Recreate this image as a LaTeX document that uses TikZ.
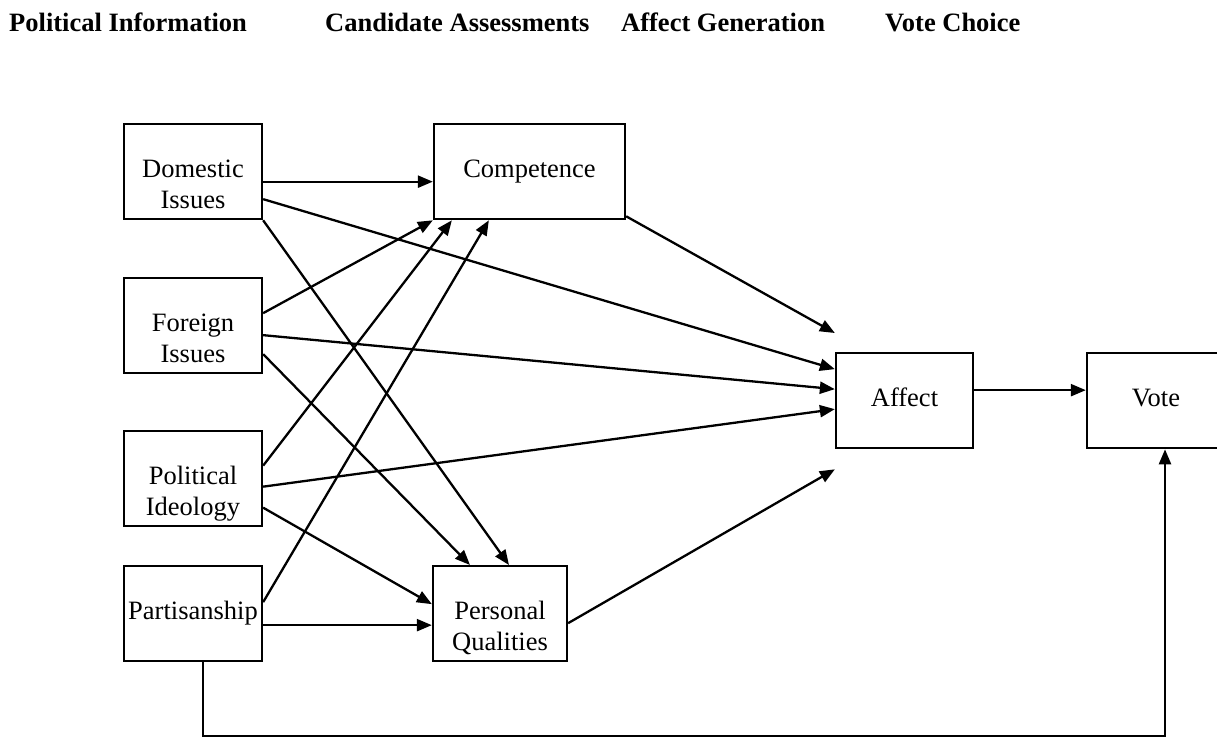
\documentclass[tikz,border=0pt]{standalone}
\usepackage{fontspec}
\setmainfont{Liberation Serif}
\usepackage{tikz}
\usetikzlibrary{arrows.meta, calc, positioning}
\newcommand{\diagfont}{\fontsize{26.5pt}{31pt}\selectfont}
\begin{document}
\begin{tikzpicture}[x=1pt, y=-1pt, >={Triangle[length=15pt, width=12pt]},
  box/.style={draw, line width=2.3pt, inner sep=0pt, text width=#1, align=center,
              text height=53pt, text depth=42pt, anchor=north, font=\diagfont},
  head/.style={anchor=base west, inner sep=0pt, font=\diagfont\bfseries},
  link/.style={->, line width=2.3pt}]
  \useasboundingbox (0,0) rectangle (1217,737);
  % column titles
  \node[head] (tinfo) at (9,31) {Political Information};
  \node[head] (tcand) at (325,31) {Candidate Assessments};
  \node[head] (taff) at (621,31) {Affect Generation};
  \node[head] (tvote) at (885,31) {Vote Choice};
  % boxes
  \node[box=138pt] (dom) at (193,123) {Domestic\\Issues};
  \node[box=138pt] (frn) at (193,277) {Foreign\\Issues};
  \node[box=138pt] (ideo) at (193,430) {Political\\Ideology};
  \node[box=138pt] (party) at (193,565) {Partisanship\\ };
  \node[box=191pt] (comp) at (529.5,123) {Competence\\ };
  \node[box=134pt] (pers) at (500,565) {Personal\\Qualities};
  \node[box=137pt] (affect) at (904.5,352) {Affect\\ };
  \node[box=138pt] (vote) at (1156,352) {Vote\\ };
  % into competence
  \draw[link] ([yshift=-10pt]dom.east) -- ([yshift=-10pt]dom.east -| comp.west);
  \draw[link] ([yshift=12.5pt]frn.east) -- (comp.south west);
  \draw[link] ([yshift=13pt]ideo.east) -- ([xshift=19pt]comp.south west);
  \draw[link] ([yshift=11.5pt]party.east) -- ([xshift=56pt]comp.south west);
  % into personal qualities
  \draw[link] (dom.south east) -- ([xshift=9pt]pers.north);
  \draw[link] ([yshift=-28.5pt]frn.east) -- ([xshift=-30pt]pers.north);
  \draw[link] ([yshift=-29pt]ideo.east) -- ([yshift=9.5pt]pers.west);
  \draw[link] ([yshift=-11.5pt]party.east) -- ([yshift=-11.5pt]pers.west);
  % into affect
  \draw[link] ([yshift=4pt]comp.south east) -- ([yshift=19pt]affect.north west);
  \draw[link] ([yshift=-27.5pt]dom.east) -- ([yshift=31.5pt]affect.west);
  \draw[link] ([yshift=-9.5pt]frn.east) -- ([yshift=11.5pt]affect.west);
  \draw[link] ([yshift=-8pt]ideo.east) -- ([yshift=-8.5pt]affect.west);
  \draw[link] ([yshift=-9.5pt]pers.east) -- ([yshift=-20pt]affect.south west);
  % vote
  \draw[link] ([yshift=10.5pt]affect.east) -- ([yshift=10.5pt]affect.east -| vote.west);
  \draw[link] ([xshift=10pt]party.south) -- ++(0,74) -| ([xshift=9pt]vote.south);
\end{tikzpicture}
\end{document}
